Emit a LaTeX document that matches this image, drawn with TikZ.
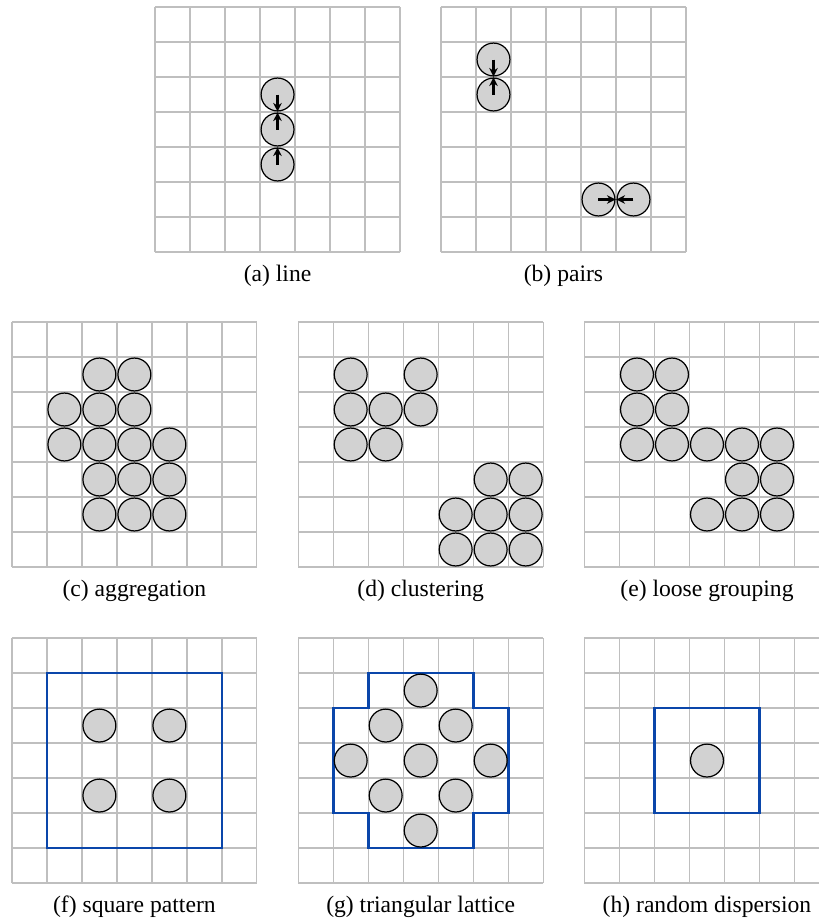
\documentclass[tikz,border=0pt]{standalone}
\usepackage{fontspec}
\setmainfont{Liberation Serif}
\usepackage{xcolor}
\usetikzlibrary{arrows.meta, positioning}

\definecolor{hullblue}{RGB}{10,70,170}

\begin{document}
\begin{tikzpicture}[x=0.5cm, y=0.5cm,
    cell/.style={draw=gray!50, line width=0.5pt, step=1},
    ball/.style={circle, draw=black, fill=gray!35, line width=0.5pt, minimum size=0.47cm, inner sep=0pt},
    push/.style={-{Stealth[length=3.5pt, width=3.5pt]}, line width=1pt},
    hull/.style={draw=hullblue, line width=1.1pt},
    caption/.style={anchor=base, font=\fontsize{9.6}{11}\selectfont}]
    % Page frame
    \useasboundingbox (0,0) rectangle (23.4,-26.286);
    \clip (0,0) rectangle (23.4,-26.286);

    % (a) line
    \begin{scope}[shift={(4.43,-7.2)}]
        \draw[cell] (0,0) grid (7,7);
        \node[ball] (a1) at (3.5,4.5) {};
        \node[ball] (a2) at (3.5,3.5) {};
        \node[ball] (a3) at (3.5,2.5) {};
        \draw[push] (a1.center) -- (a1.south);
        \draw[push] (a2.center) -- (a2.north);
        \draw[push] (a3.center) -- (a3.north);
        \node[caption] (capa) at (3.5,-0.84) {(a) line};
    \end{scope}

    % (b) pairs
    \begin{scope}[shift={(12.6,-7.2)}]
        \draw[cell] (0,0) grid (7,7);
        \node[ball] (b1) at (1.5,5.5) {};
        \node[ball] (b2) at (1.5,4.5) {};
        \node[ball] (b3) at (4.5,1.5) {};
        \node[ball] (b4) at (5.5,1.5) {};
        \draw[push] (b1.center) -- (b1.south);
        \draw[push] (b2.center) -- (b2.north);
        \draw[push] (b3.center) -- (b3.east);
        \draw[push] (b4.center) -- (b4.west);
        \node[caption] (capb) at (3.5,-0.84) {(b) pairs};
    \end{scope}

    % (c) aggregation
    \begin{scope}[shift={(0.34,-16.2)}]
        \draw[cell] (0,0) grid (7,7);
        \foreach \c/\r in {2/1,3/1,1/2,2/2,3/2,1/3,2/3,3/3,4/3,2/4,3/4,4/4,2/5,3/5,4/5}
            \node[ball] (c-\c-\r) at (\c+0.5,6.5-\r) {};
        \node[caption] (capc) at (3.5,-0.84) {(c) aggregation};
    \end{scope}

    % (d) clustering
    \begin{scope}[shift={(8.52,-16.2)}]
        \draw[cell] (0,0) grid (7,7);
        \foreach \c/\r in {1/1,3/1,1/2,2/2,3/2,1/3,2/3,5/4,6/4,4/5,5/5,6/5,4/6,5/6,6/6}
            \node[ball] (d-\c-\r) at (\c+0.5,6.5-\r) {};
        \node[caption] (capd) at (3.5,-0.84) {(d) clustering};
    \end{scope}

    % (e) loose grouping
    \begin{scope}[shift={(16.70,-16.2)}]
        \draw[cell] (0,0) grid (7,7);
        \foreach \c/\r in {1/1,2/1,1/2,2/2,1/3,2/3,3/3,4/3,5/3,4/4,5/4,3/5,4/5,5/5}
            \node[ball] (e-\c-\r) at (\c+0.5,6.5-\r) {};
        \node[caption] (cape) at (3.5,-0.84) {(e) loose grouping};
    \end{scope}

    % (f) square pattern
    \begin{scope}[shift={(0.34,-25.23)}]
        \draw[cell] (0,0) grid (7,7);
        \draw[hull] (1,1) rectangle (6,6);
        \foreach \c/\r in {2/2,4/2,2/4,4/4}
            \node[ball] (f-\c-\r) at (\c+0.5,6.5-\r) {};
        \node[caption] (capf) at (3.5,-0.84) {(f) square pattern};
    \end{scope}

    % (g) triangular lattice
    \begin{scope}[shift={(8.52,-25.23)}]
        \draw[cell] (0,0) grid (7,7);
        \draw[hull] (2,6) -- (5,6) -- (5,5) -- (6,5) -- (6,2) -- (5,2) -- (5,1)
            -- (2,1) -- (2,2) -- (1,2) -- (1,5) -- (2,5) -- cycle;
        \foreach \c/\r in {3/1,2/2,4/2,1/3,3/3,5/3,2/4,4/4,3/5}
            \node[ball] (g-\c-\r) at (\c+0.5,6.5-\r) {};
        \node[caption] (capg) at (3.5,-0.84) {(g) triangular lattice};
    \end{scope}

    % (h) random dispersion
    \begin{scope}[shift={(16.70,-25.23)}]
        \draw[cell] (0,0) grid (7,7);
        \draw[hull] (2,2) rectangle (5,5);
        \node[ball] (h1) at (3.5,3.5) {};
        \node[caption] (caph) at (3.5,-0.84) {(h) random dispersion};
    \end{scope}
\end{tikzpicture}
\end{document}
